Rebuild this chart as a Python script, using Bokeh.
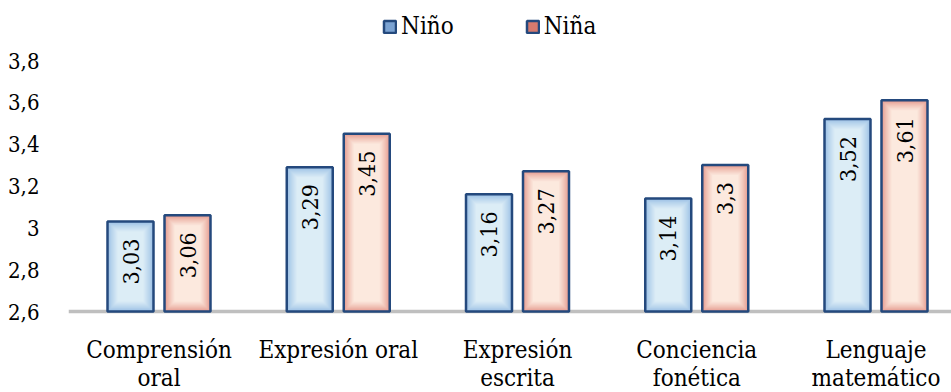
import numpy as np
from bokeh.plotting import figure
from bokeh.models import Range1d, FixedTicker, Legend, LegendItem, Span
from bokeh.core.properties import value
from bokeh.embed import file_html
from bokeh.resources import INLINE

# ---- data -------------------------------------------------------------
categories = ["Comprensión\noral", "Expresión oral", "Expresión\nescrita",
              "Conciencia\nfonética", "Lenguaje\nmatemático"]
series_names = ["Niño", "Niña"]
nino = [3.03, 3.29, 3.16, 3.14, 3.52]
nina = [3.06, 3.45, 3.27, 3.30, 3.61]
y_ticks = [2.6, 2.8, 3.0, 3.2, 3.4, 3.6, 3.8]


def fmt(v):
    s = f"{v:.2f}".rstrip("0").rstrip(".")
    return s.replace(".", ",")


# ---- layout -----------------------------------------------------------
FONT = "'DejaVu Serif Condensed', 'DejaVu Serif'"
W, H = 951, 392
LEFT = 68
BASE_PX = 311                      # screen row of the 2,6 baseline
TOP_PX = 60                        # screen row of the 3,8 level
frame_w = W - LEFT
Y0, Y1 = 2.6, 3.8
px_x = 179.25                      # pixels per category step
px_y = (BASE_PX - TOP_PX) / (Y1 - Y0)
x_start = -90.5 / px_x

p = figure(width=W, height=H,
           x_range=Range1d(x_start, x_start + frame_w / px_x),
           y_range=Range1d(Y0 - (H - BASE_PX) / px_y, Y1 + TOP_PX / px_y),
           output_backend="svg", toolbar_location=None,
           x_axis_location=None,
           min_border_left=LEFT, min_border_right=0,
           min_border_top=0, min_border_bottom=0)
p.outline_line_color = None
p.xgrid.visible = False
p.ygrid.visible = False
p.background_fill_color = "white"
p.border_fill_color = "white"

# ---- category baseline ------------------------------------------------
p.add_layout(Span(location=Y0, dimension="width", line_color="#BFBFBF",
                  line_width=3.5, level="underlay"))

# ---- bars with soft inner glow ----------------------------------------
BORDER = "#24497D"
bar_w = 46.0 / px_x
half_gap = 28.5 / px_x
styles = {
    "Niño": ((152, 190, 228), (220, 237, 246), "#7BA3D3"),
    "Niña": ((228, 152, 140), (252, 233, 222), "#D67A6E"),
}


def hexc(c):
    return "#%02x%02x%02x" % tuple(int(round(v)) for v in c)


xs_idx = np.arange(len(categories))
legend_items = []
for name, vals, shift in (("Niño", nino, -half_gap), ("Niña", nina, half_gap)):
    edge, center, key = styles[name]
    cx = xs_idx + shift
    vals = np.array(vals)
    layers = 10
    for k in range(layers + 1):
        t = (k / layers) ** 0.8
        col = [edge[i] + (center[i] - edge[i]) * t for i in range(3)]
        dx = k * 1.0 / px_x
        dy = k * 1.0 / px_y
        p.quad(left=cx - bar_w / 2 + dx, right=cx + bar_w / 2 - dx,
               bottom=Y0 + dy, top=vals - dy,
               fill_color=hexc(col), line_color=None)
    p.quad(left=cx - bar_w / 2, right=cx + bar_w / 2, bottom=Y0, top=vals,
           fill_color=None, line_color=BORDER, line_width=2.5)
    # hidden proxy that provides the legend key for the series
    proxy = p.quad(left=cx - bar_w / 2, right=cx + bar_w / 2, bottom=Y0,
                   top=vals, fill_color=key, line_color=BORDER, line_width=2.5,
                   visible=False)
    legend_items.append(LegendItem(label=name, renderers=[proxy]))
    p.text(x=cx, y=vals, text=[fmt(v) for v in vals], angle=np.pi / 2,
           text_align="right", text_baseline="middle", y_offset=17,
           text_font=value(FONT), text_font_size="23px", text_color="black")

# ---- category labels ----------------------------------------------------
p.text(x=xs_idx, y=[Y0] * len(categories), text=categories,
       text_align="center", text_baseline="top", y_offset=24,
       text_line_height=1.0,
       text_font=value(FONT), text_font_size="24px", text_color="black")

# ---- value axis ---------------------------------------------------------
ya = p.yaxis[0]
ya.ticker = FixedTicker(ticks=y_ticks)
ya.major_label_overrides = {t: fmt(t) for t in y_ticks}
ya.axis_line_color = None
ya.major_tick_line_color = None
ya.minor_tick_line_color = None
ya.major_label_text_font = FONT
ya.major_label_text_font_size = "22px"
ya.major_label_text_color = "black"
ya.major_label_standoff = 23

# ---- legend -----------------------------------------------------------
legend = Legend(items=legend_items,
                orientation="horizontal", location=(314, 352),
                padding=0, margin=0, spacing=71, label_standoff=4,
                glyph_width=15, glyph_height=15,
                label_text_font=FONT, label_text_font_size="24px",
                label_text_color="black",
                border_line_color=None, background_fill_alpha=0)
p.add_layout(legend, "center")

open("out.html", "w").write(file_html(p, INLINE))
